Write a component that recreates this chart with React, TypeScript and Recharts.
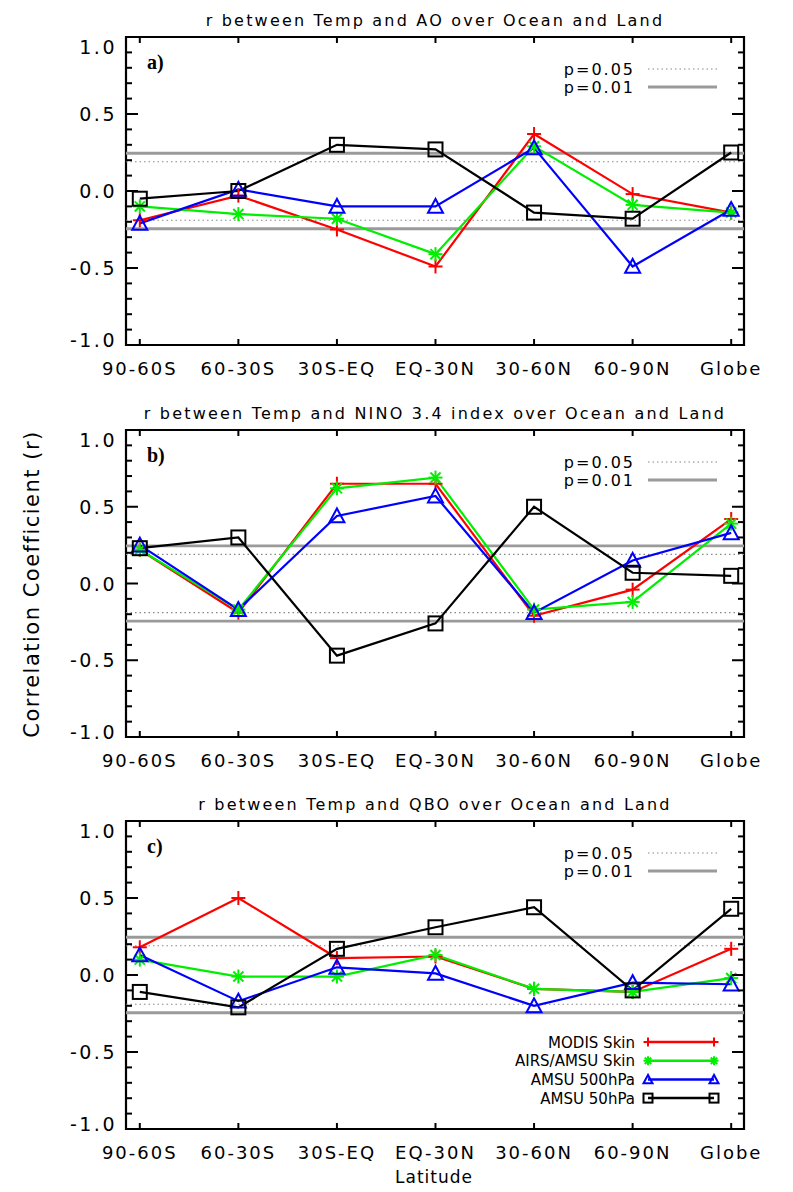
import React from "react";
import {
  ComposedChart,
  Line,
  XAxis,
  YAxis,
  ReferenceLine,
  ReferenceArea,
} from "recharts";

const CATEGORIES = ["90-60S", "60-30S", "30S-EQ", "EQ-30N", "30-60N", "60-90N", "Globe"];
const X_POS = [0, 1, 2, 3, 4, 5, 6];
const Y_MAJOR = [-1, -0.5, 0, 0.5, 1];
const Y_MINOR = [-0.9, -0.8, -0.7, -0.6, -0.4, -0.3, -0.2, -0.1, 0.1, 0.2, 0.3, 0.4, 0.6, 0.7, 0.8, 0.9];

// significance levels
const P05 = 0.19;
const P01 = 0.245;

// a) AO
const AO_MODIS = [-0.19, -0.03, -0.25, -0.49, 0.37, -0.02, -0.14];
const AO_AIRS = [-0.1, -0.15, -0.18, -0.41, 0.29, -0.09, -0.14];
const AO_AMSU500 = [-0.21, 0.01, -0.1, -0.1, 0.28, -0.49, -0.12];
const AO_AMSU50 = [-0.05, 0.0, 0.3, 0.27, -0.14, -0.18, 0.25];

// b) NINO 3.4
const NINO_MODIS = [0.22, -0.19, 0.65, 0.65, -0.21, -0.04, 0.42];
const NINO_AIRS = [0.22, -0.17, 0.62, 0.69, -0.17, -0.12, 0.39];
const NINO_AMSU500 = [0.25, -0.17, 0.44, 0.57, -0.19, 0.15, 0.33];
const NINO_AMSU50 = [0.23, 0.3, -0.47, -0.26, 0.5, 0.07, 0.05];

// c) QBO
const QBO_MODIS = [0.18, 0.5, 0.11, 0.12, -0.09, -0.11, 0.17];
const QBO_AIRS = [0.1, -0.01, -0.01, 0.13, -0.09, -0.11, -0.02];
const QBO_AMSU500 = [0.13, -0.17, 0.05, 0.01, -0.2, -0.05, -0.06];
const QBO_AMSU50 = [-0.11, -0.21, 0.17, 0.31, 0.44, -0.1, 0.43];

const SERIES = [
  { key: "modis", name: "MODIS Skin", color: "#ff0000", marker: "plus" },
  { key: "airs", name: "AIRS/AMSU Skin", color: "#00ee00", marker: "star" },
  { key: "amsu500", name: "AMSU 500hPa", color: "#0000ff", marker: "triangle" },
  { key: "amsu50", name: "AMSU 50hPa", color: "#000000", marker: "square" },
];

const W = 793;
const FRAME_L = 126;
const FRAME_R = 744;
const PAD_TOP = 37;
const X_AXIS_H = 55;
const X_MIN = -0.14;
const X_MAX = 6.13;
const FONT = "'DejaVu Sans', sans-serif";

function buildRows(modis: number[], airs: number[], amsu500: number[], amsu50: number[]) {
  return X_POS.map((x, i) => ({
    x,
    modis: modis[i],
    airs: airs[i],
    amsu500: amsu500[i],
    amsu50: amsu50[i],
  }));
}

function Marker({ kind, cx, cy, color, s }: { kind: string; cx: number; cy: number; color: string; s: number }) {
  const st = { stroke: color, strokeWidth: 2, fill: "none" };
  if (kind === "plus") {
    return (
      <g>
        <line x1={cx - s} x2={cx + s} y1={cy} y2={cy} {...st} />
        <line x1={cx} x2={cx} y1={cy - s} y2={cy + s} {...st} />
      </g>
    );
  }
  if (kind === "star") {
    const d = s * 0.72;
    return (
      <g>
        <line x1={cx - s} x2={cx + s} y1={cy} y2={cy} {...st} />
        <line x1={cx} x2={cx} y1={cy - s} y2={cy + s} {...st} />
        <line x1={cx - d} x2={cx + d} y1={cy - d} y2={cy + d} {...st} />
        <line x1={cx - d} x2={cx + d} y1={cy + d} y2={cy - d} {...st} />
      </g>
    );
  }
  if (kind === "triangle") {
    return <polygon points={`${cx},${cy - s} ${cx - s},${cy + s * 0.85} ${cx + s},${cy + s * 0.85}`} {...st} />;
  }
  return <rect x={cx - s} y={cy - s} width={s * 2} height={s * 2} {...st} />;
}

function MajorTick(props: any) {
  const { y, payload } = props;
  const v = payload.value as number;
  let dy = 7;
  if (v === 1) dy = 17;
  if (v === -1) dy = 2;
  return (
    <g>
      <line x1={FRAME_L} x2={FRAME_L + 12} y1={y} y2={y} stroke="#000" strokeWidth={2} />
      <line x1={FRAME_R} x2={FRAME_R - 12} y1={y} y2={y} stroke="#000" strokeWidth={2} />
      <text x={117} y={y + dy} textAnchor="end" fontFamily={FONT} fontSize={19} letterSpacing={2.5} fill="#000">
        {v.toFixed(1)}
      </text>
    </g>
  );
}

function MinorTick(props: any) {
  const { y } = props;
  return (
    <g>
      <line x1={FRAME_L} x2={FRAME_L + 6} y1={y} y2={y} stroke="#000" strokeWidth={2} />
      <line x1={FRAME_R} x2={FRAME_R - 6} y1={y} y2={y} stroke="#000" strokeWidth={2} />
    </g>
  );
}

function Panel({ top, frameH, rows }: { top: number; frameH: number; rows: any[] }) {
  const height = PAD_TOP + frameH + X_AXIS_H;
  const frameBottom = PAD_TOP + frameH;
  const xTick = (props: any) => {
    const { x, payload } = props;
    return (
      <g>
        <line x1={x} x2={x} y1={frameBottom} y2={frameBottom - 6} stroke="#000" strokeWidth={2} />
        <line x1={x} x2={x} y1={PAD_TOP} y2={PAD_TOP + 6} stroke="#000" strokeWidth={2} />
        <text x={x} y={frameBottom + 29.5} textAnchor="middle" fontFamily={FONT} fontSize={18} letterSpacing={2} fill="#000">
          {CATEGORIES[payload.value]}
        </text>
      </g>
    );
  };
  return (
    <div style={{ position: "absolute", left: 0, top, width: W, height }}>
      <ComposedChart width={W} height={height} data={rows} margin={{ top: PAD_TOP, right: 0, bottom: 0, left: 0 }}>
        <XAxis
          dataKey="x"
          type="number"
          domain={[X_MIN, X_MAX]}
          ticks={X_POS}
          interval={0}
          allowDataOverflow
          axisLine={false}
          tickLine={false}
          height={X_AXIS_H}
          tick={xTick}
        />
        <YAxis
          yAxisId="main"
          type="number"
          domain={[-1, 1]}
          ticks={Y_MAJOR}
          interval={0}
          width={FRAME_L}
          axisLine={false}
          tickLine={false}
          tick={MajorTick}
          allowDataOverflow
        />
        <YAxis
          yAxisId="minor"
          orientation="right"
          type="number"
          domain={[-1, 1]}
          ticks={Y_MINOR}
          interval={0}
          width={W - FRAME_R}
          axisLine={false}
          tickLine={false}
          tick={MinorTick}
          allowDataOverflow
        />
        <ReferenceLine yAxisId="main" y={P05} stroke="#888" strokeWidth={1.2} strokeDasharray="1.5 3" />
        <ReferenceLine yAxisId="main" y={-P05} stroke="#888" strokeWidth={1.2} strokeDasharray="1.5 3" />
        <ReferenceLine yAxisId="main" y={P01} stroke="#9a9a9a" strokeWidth={2.8} />
        <ReferenceLine yAxisId="main" y={-P01} stroke="#9a9a9a" strokeWidth={2.8} />
        <ReferenceArea yAxisId="main" x1={X_MIN} x2={X_MAX} y1={-1} y2={1} fill="none" fillOpacity={0} stroke="#000" strokeWidth={2.2} />
        {SERIES.map((s) => (
          <Line
            key={s.key}
            yAxisId="main"
            type="linear"
            dataKey={s.key}
            stroke={s.color}
            strokeWidth={2.2}
            isAnimationActive={false}
            activeDot={false}
            dot={(p: any) => (
              <Marker
                key={`${s.key}-${p.index}`}
                kind={s.marker}
                cx={p.cx}
                cy={p.cy}
                color={s.color}
                s={s.marker === "triangle" ? 7.5 : 7}
              />
            )}
          />
        ))}
      </ComposedChart>
    </div>
  );
}

const PANELS = [
  { top: 0, frameH: 308, letter: "a)", title: "r between Temp and AO over Ocean and Land", rows: buildRows(AO_MODIS, AO_AIRS, AO_AMSU500, AO_AMSU50) },
  { top: 393, frameH: 307, letter: "b)", title: "r between Temp and NINO 3.4 index over Ocean and Land", rows: buildRows(NINO_MODIS, NINO_AIRS, NINO_AMSU500, NINO_AMSU50) },
  { top: 784, frameH: 308, letter: "c)", title: "r between Temp and QBO over Ocean and Land", rows: buildRows(QBO_MODIS, QBO_AIRS, QBO_AMSU500, QBO_AMSU50) },
];

export default function App() {
  const cTop = PANELS[2].top + PAD_TOP;
  return (
    <div style={{ position: "absolute", left: 0, top: 0, width: W, height: 1192, background: "#fff" }}>
      {PANELS.map((p) => (
        <Panel key={p.letter} top={p.top} frameH={p.frameH} rows={p.rows} />
      ))}
      <svg width={W} height={1192} style={{ position: "absolute", left: 0, top: 0, pointerEvents: "none" }}>
        {PANELS.map((p) => {
          const ft = p.top + PAD_TOP;
          return (
            <g key={p.letter}>
              <text x={435} y={ft - 11} textAnchor="middle" fontFamily={FONT} fontSize={16} letterSpacing={2.2} fill="#000">
                {p.title}
              </text>
              <text x={147} y={ft + 32} fontFamily="'Liberation Serif', serif" fontWeight="bold" fontSize={20} fill="#000">
                {p.letter}
              </text>
              <text x={635} y={ft + 38} textAnchor="end" fontFamily={FONT} fontSize={16} letterSpacing={2} fill="#000">
                p=0.05
              </text>
              <line x1={648} x2={717} y1={ft + 32} y2={ft + 32} stroke="#888" strokeWidth={1.2} strokeDasharray="1.5 3" />
              <text x={635} y={ft + 56} textAnchor="end" fontFamily={FONT} fontSize={16} letterSpacing={2} fill="#000">
                p=0.01
              </text>
              <line x1={648} x2={717} y1={ft + 50} y2={ft + 50} stroke="#9a9a9a" strokeWidth={2.8} />
            </g>
          );
        })}
        {SERIES.map((s, i) => {
          const y = cTop + 221 + i * 18.7;
          return (
            <g key={s.key}>
              <text x={635} y={y + 5.5} textAnchor="end" fontFamily={FONT} fontSize={15} fill="#000">
                {s.name}
              </text>
              <line x1={648} x2={714} y1={y} y2={y} stroke={s.color} strokeWidth={2.5} />
              <Marker kind={s.marker} cx={648} cy={y} color={s.color} s={4.5} />
              <Marker kind={s.marker} cx={714} cy={y} color={s.color} s={4.5} />
            </g>
          );
        })}
        <text
          transform="translate(39,584) rotate(-90)"
          textAnchor="middle"
          fontFamily={FONT}
          fontSize={21}
          letterSpacing={1.5}
          fill="#000"
        >
          Correlation Coefficient (r)
        </text>
        <text x={434} y={1183} textAnchor="middle" fontFamily={FONT} fontSize={17} letterSpacing={1} fill="#000">
          Latitude
        </text>
      </svg>
    </div>
  );
}
